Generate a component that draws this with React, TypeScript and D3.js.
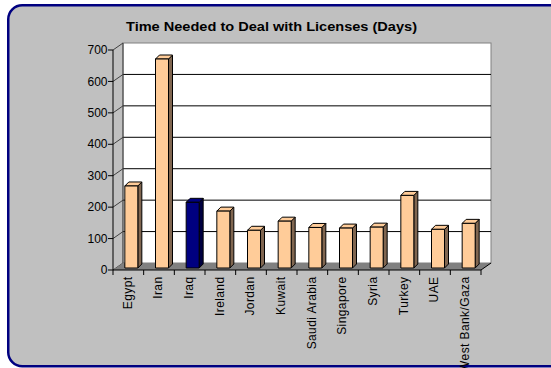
import React from "react";
import * as d3 from "d3";

const title = "Time Needed to Deal with Licenses (Days)";
const categories = ["Egypt", "Iran", "Iraq", "Ireland", "Jordan", "Kuwait", "Saudi Arabia", "Singapore", "Syria", "Turkey", "UAE", "West Bank/Gaza"];
const values = [261, 665, 209, 181, 120, 149, 129, 127, 130, 231, 123, 142];
const highlighted = ["Iraq"];
const yTicks = [0, 100, 200, 300, 400, 500, 600, 700];

const W = 551;
const H = 368;
const FONT = "'Liberation Sans', Arial, sans-serif";

export default function App() {
  const x0 = 113, x1 = 481;
  const y = d3.scaleLinear().domain([0, 700]).range([270, 50]);
  const x = d3.scaleBand<string>().domain(categories).range([x0, x1]);
  const dx = 10, dy = -7; // wall depth
  const bx = 3, by = -2; // bar front offset in depth
  const bw = 13, bdx = 4, bdy = -4; // bar width / depth

  return (
    <svg width={W} height={H} style={{ position: "fixed", left: 0, top: 0 }} fontFamily={FONT}>
      <rect x={0} y={0} width={W} height={H} fill="#ffffff" />
      <rect x={8.25} y={5.25} width={W + 30} height={361} rx={14} ry={14} fill="#C0C0C0" stroke="#000080" strokeWidth={2.5} />
      <text x={271.5} y={31} textAnchor="middle" fontSize={12.5} fontWeight="bold" fill="#000" textLength={291} lengthAdjust="spacingAndGlyphs">{title}</text>

      {/* back wall */}
      <rect x={x0 + dx} y={y(700) + dy} width={x1 - x0} height={y(0) - y(700)} fill="#ffffff" stroke="#808080" strokeWidth={1} />
      {yTicks.filter(t => t > 0 && t < 700).map(t => (
        <line key={"g" + t} x1={x0 + dx} x2={x1 + dx} y1={y(t) + dy} y2={y(t) + dy} stroke="#000" strokeWidth={1} />
      ))}
      {/* side wall diagonals */}
      {yTicks.map(t => (
        <line key={"d" + t} x1={x0} x2={x0 + dx} y1={y(t)} y2={y(t) + dy} stroke="#404040" strokeWidth={1} />
      ))}
      <line x1={x0 + dx} x2={x0 + dx} y1={y(700) + dy} y2={y(0) + dy} stroke="#404040" strokeWidth={1} />
      {/* floor */}
      <polygon points={`${x0},${y(0)} ${x1},${y(0)} ${x1 + dx},${y(0) + dy} ${x0 + dx},${y(0) + dy}`} fill="#808080" stroke="none" />
      <line x1={x1} x2={x1 + dx} y1={y(0)} y2={y(0) + dy} stroke="#000" strokeWidth={1} />

      {/* bars */}
      {categories.map((c, i) => {
        const v = values[i];
        const isH = highlighted.includes(c);
        const front = isH ? "#000080" : "#FFCC99";
        const side = isH ? "#000040" : "#806650";
        const top = isH ? "#000080" : "#FFCC99";
        const cx = (x(c) as number) + x.bandwidth() / 2 + bx;
        const xl = cx - bw / 2;
        const xr = cx + bw / 2;
        const yb = y(0) + by;
        const yt = y(v) + by;
        return (
          <g key={c} stroke="#000" strokeWidth={1} strokeLinejoin="round">
            <polygon points={`${xr},${yt} ${xr + bdx},${yt + bdy} ${xr + bdx},${yb + bdy} ${xr},${yb}`} fill={side} />
            <polygon points={`${xl},${yt} ${xr},${yt} ${xr + bdx},${yt + bdy} ${xl + bdx},${yt + bdy}`} fill={top} />
            <rect x={xl} y={yt} width={bw} height={yb - yt} fill={front} />
          </g>
        );
      })}

      {/* axes */}
      <line x1={x0} x2={x0} y1={y(700)} y2={y(0)} stroke="#000" strokeWidth={1} />
      <line x1={x0} x2={x1} y1={y(0)} y2={y(0)} stroke="#000" strokeWidth={1} />
      {yTicks.map(t => (
        <g key={"yt" + t}>
          <line x1={x0 - 5} x2={x0} y1={y(t)} y2={y(t)} stroke="#000" strokeWidth={1} />
          <text x={x0 - 5.5} y={y(t)} dy="0.35em" textAnchor="end" fontSize={12} fill="#000">{t}</text>
        </g>
      ))}
      {[...categories.map(c => x(c) as number), x1].map((px, i) => (
        <line key={"xt" + i} x1={px} x2={px} y1={y(0)} y2={y(0) + 5} stroke="#000" strokeWidth={1} />
      ))}
      {categories.map(c => {
        const cx = (x(c) as number) + x.bandwidth() / 2 - 1;
        const ty = y(0) + 6.5;
        return (
          <text key={"xl" + c} transform={`translate(${cx},${ty}) rotate(-90)`} dy="0.35em" textAnchor="end" fontSize={12} letterSpacing={0.4} fill="#000">{c}</text>
        );
      })}
    </svg>
  );
}
